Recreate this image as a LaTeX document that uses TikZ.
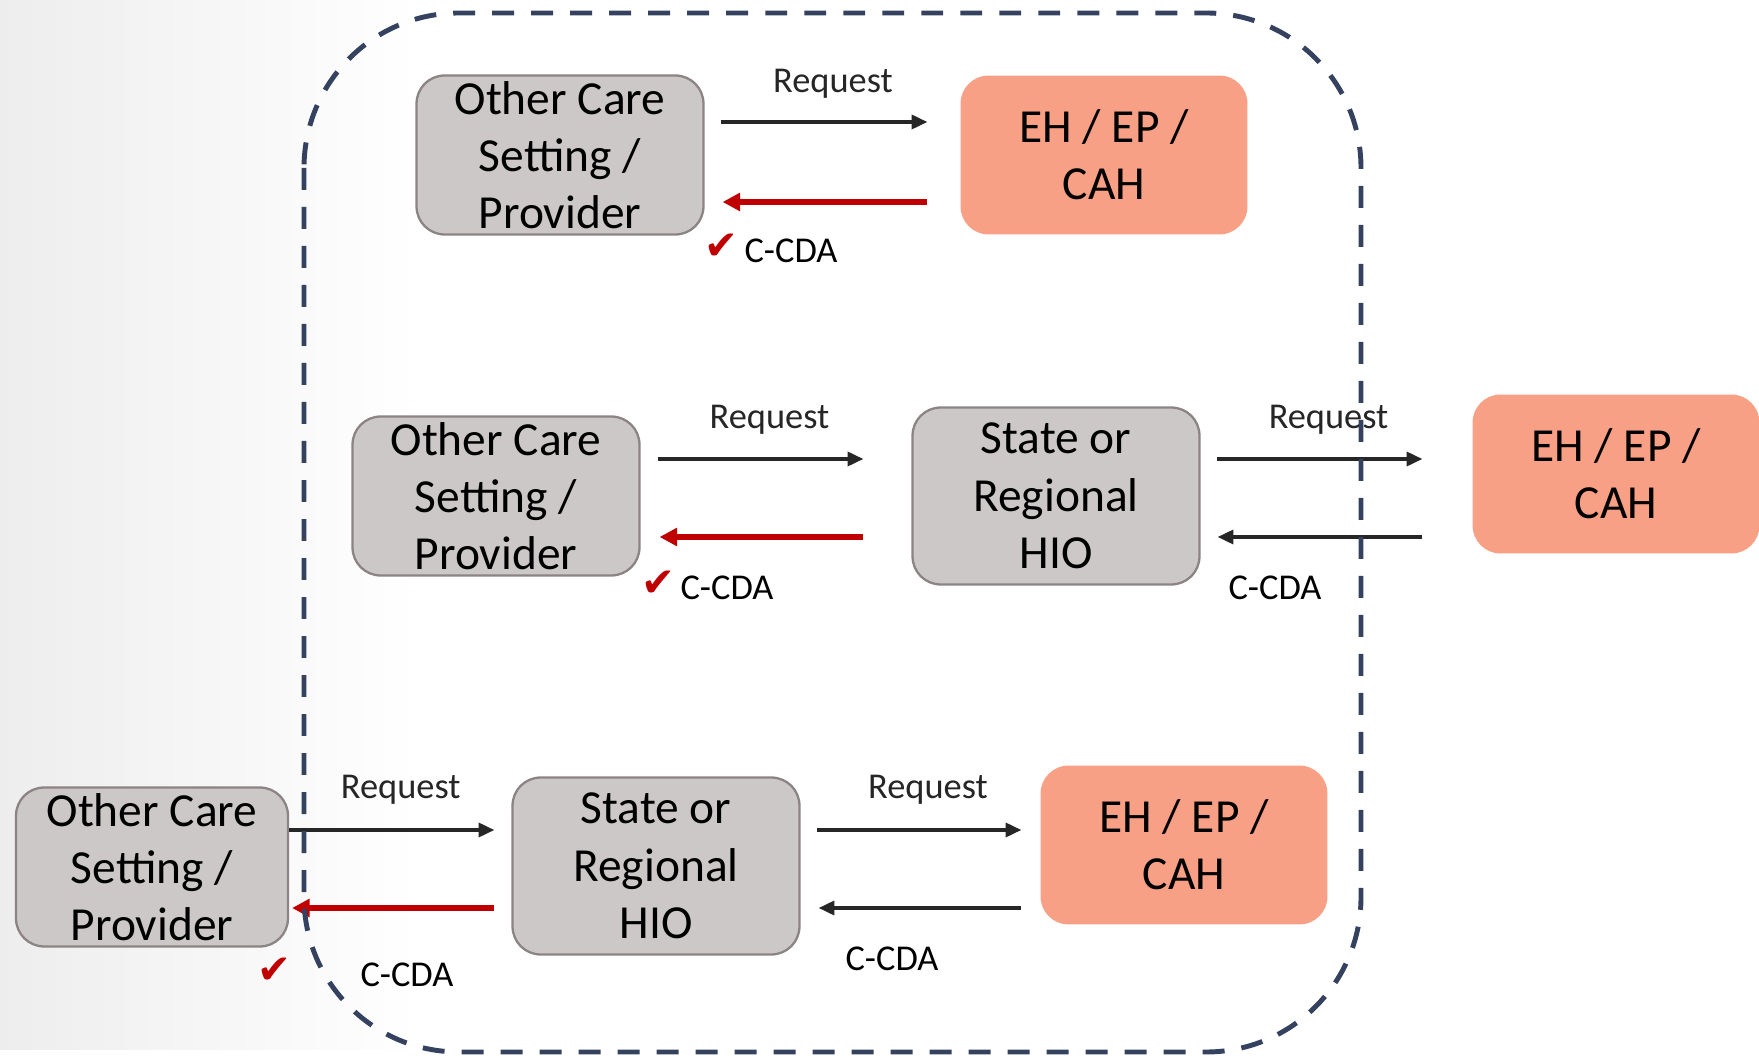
\documentclass[tikz,border=0pt]{standalone}
\usepackage{fontspec}
\setmainfont{Carlito}
\newfontfamily\symfont{DejaVu Sans}
\usetikzlibrary{arrows.meta,calc}
\definecolor{boxgray}{HTML}{CCC8C8}
\definecolor{boxline}{HTML}{8C8484}
\definecolor{salmon}{HTML}{F8A085}
\definecolor{frameblue}{HTML}{344260}
\definecolor{cdared}{HTML}{C00000}
\definecolor{arrowblack}{HTML}{262626}

\begin{document}
\begin{tikzpicture}[x=0.02cm,y=-0.02cm,>={Triangle[length=9pt,width=8pt]},
    care/.style={draw=boxline,line width=1.3pt,fill=boxgray,rounded corners=16pt,
      minimum width=5.74cm,minimum height=3.18cm,align=center,inner sep=0pt,
      font=\fontsize{27}{32.6}\selectfont},
    hio/.style={care,minimum height=3.54cm},
    eh/.style={care,draw=none,fill=salmon},
    req/.style={arrowblack,line width=1.9pt,->},
    ccda/.style={cdared,line width=3.2pt,-{Triangle[length=10pt,width=10pt]}},
    lbl/.style={font=\fontsize{20.7}{24}\selectfont},
    tick/.style={cdared,font=\symfont\fontsize{23}{24}\selectfont}]
  \useasboundingbox (0,0) rectangle (1759,1060);
  \fill[white] (0,0) rectangle (1759,1060);
  \shade[left color=black!7,right color=white] (0,0) rectangle (420,1049);

  % first row
  \node[care] (oc1) at (560,155) {Other Care\\Setting /\\Provider};
  \node[eh] (eh1) at (1104,155) {EH / EP /\\CAH};
  \draw[req] ($(oc1.east)+(16,-33)$) -- ($(eh1.west)+(-32,-33)$)
    node[lbl,midway,xshift=0.18cm,yshift=0.77cm] (rq1) {Request};
  \draw[ccda] ($(eh1.west)+(-32,47)$) -- ($(oc1.east)+(18,47)$);
  \node[tick] (tk1) at (721,247) {✔};
  \node[lbl] (cd1) at (791,251) {C-CDA};

  % second row
  \node[care] (oc2) at (496,496) {Other Care\\Setting /\\Provider};
  \node[hio] (hio2) at (1056,496) {State or\\Regional\\HIO};
  \node[eh] (eh2) at (1616,474) {EH / EP /\\CAH};
  \draw[req] ($(oc2.east)+(17,-37)$) -- ($(hio2.west)+(-48,-37)$)
    node[lbl,midway,xshift=0.18cm,yshift=0.79cm] (rq2) {Request};
  \draw[ccda] ($(hio2.west)+(-48,41)$) -- ($(oc2.east)+(19,41)$);
  \node[tick] (tk2) at (658,584) {✔};
  \node[lbl] (cd2) at (727,588) {C-CDA};
  \draw[req] ($(hio2.east)+(16,-37)$) -- ($(eh2.west)+(-49,-15)$)
    node[lbl,midway,xshift=0.18cm,yshift=0.79cm] (rq2b) {Request};
  \draw[req] ($(eh2.west)+(-49,63)$) -- ($(hio2.east)+(17,41)$);
  \node[lbl] (cd2b) at (1275,588) {C-CDA};

  % third row
  \node[care,minimum width=5.44cm] (oc3) at (152,867) {Other Care\\Setting /\\Provider};
  \node[hio] (hio3) at (656,866) {State or\\Regional\\HIO};
  \node[eh] (eh3) at (1184,845) {EH / EP /\\CAH};
  \draw[req] ($(oc3.east)+(0,-37)$) -- ($(hio3.west)+(-17,-36)$)
    node[lbl,midway,xshift=0.18cm,yshift=0.8cm] (rq3) {Request};
  \draw[ccda] ($(hio3.west)+(-17,42)$) -- ($(oc3.east)+(3,41)$);
  \node[tick] (tk3) at (274,971) {✔};
  \node[lbl] (cd3) at (407,975) {C-CDA};
  \draw[req] ($(hio3.east)+(16,-36)$) -- ($(eh3.west)+(-18,-15)$)
    node[lbl,midway,xshift=0.18cm,yshift=0.8cm] (rq3b) {Request};
  \draw[req] ($(eh3.west)+(-18,63)$) -- ($(hio3.east)+(18,42)$);
  \node[lbl] (cd3b) at (892,959) {C-CDA};

  % dashed frame
  \draw[frameblue,line width=2.8pt,dash pattern=on 12.5pt off 9.7pt,
    rounded corners=3.1cm] (304,13) rectangle (1361,1052);
\end{tikzpicture}
\end{document}
